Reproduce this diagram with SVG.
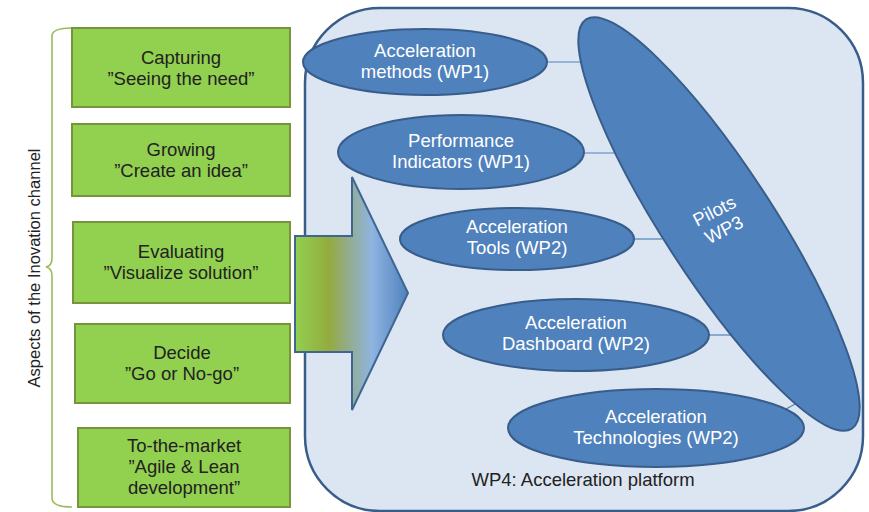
<svg xmlns="http://www.w3.org/2000/svg" width="869" height="512" viewBox="0 0 869 512">
<defs>
<linearGradient id="arrowGrad" x1="295" y1="0" x2="408" y2="0" gradientUnits="userSpaceOnUse">
<stop offset="0" stop-color="#92d050"/>
<stop offset="0.3" stop-color="#94ab3e"/>
<stop offset="0.45" stop-color="#93ab83"/>
<stop offset="0.68" stop-color="#8fb4e0"/>
<stop offset="1" stop-color="#4f81bd"/>
</linearGradient>
</defs>
<style>
.green{fill:#92d050;stroke:#77933c;stroke-width:2}
.blob{fill:#4f81bd;stroke:#385d8a;stroke-width:2}
.lt{font-family:"Liberation Sans",Arial,sans-serif;font-size:18.5px;fill:#222;text-anchor:middle}
.wt{font-family:"Liberation Sans",Arial,sans-serif;font-size:18.5px;fill:#ffffff;text-anchor:middle}
.conn{stroke:#4f81bd;stroke-width:1.2;fill:none}
</style>
<rect width="869" height="512" fill="#ffffff"/>

<g id="platform">
<rect x="305" y="8" width="558" height="503" rx="75" ry="75" fill="#dce6f2" stroke="#385d8a" stroke-width="2.5"/>
<text class="lt" x="583" y="486">WP4:  Acceleration platform</text>
</g>

<g id="brace">
<path d="M72,28 Q52,28 52,36 L52,258 Q52,266 46,267 Q52,268 52,276 L52,498 Q52,507 72,507" fill="none" stroke="#9bbb59" stroke-width="1.6"/>
<text transform="translate(40,268) rotate(-90)" font-family="Liberation Sans, Arial, sans-serif" font-size="16" fill="#222" text-anchor="middle" textLength="239" lengthAdjust="spacingAndGlyphs">Aspects of the Inovation channel</text>
</g>

<g id="capturing">
<rect class="green" x="72" y="28" width="218" height="79"/>
<text class="lt" x="181" y="64">Capturing</text>
<text class="lt" x="181" y="85">”Seeing the need”</text>
</g>
<g id="growing">
<rect class="green" x="72" y="124" width="218" height="72"/>
<text class="lt" x="181" y="156">Growing</text>
<text class="lt" x="181" y="177">”Create an idea”</text>
</g>
<g id="evaluating">
<rect class="green" x="73" y="222" width="217" height="81"/>
<text class="lt" x="181" y="258">Evaluating</text>
<text class="lt" x="181" y="279">”Visualize solution”</text>
</g>
<g id="decide">
<rect class="green" x="75" y="324" width="215" height="79"/>
<text class="lt" x="182" y="359">Decide</text>
<text class="lt" x="182" y="380">”Go or No-go”</text>
</g>
<g id="market">
<rect class="green" x="78" y="428" width="212" height="79"/>
<text class="lt" x="184" y="452">To-the-market</text>
<text class="lt" x="184" y="473">”Agile &amp; Lean</text>
<text class="lt" x="184" y="494">development”</text>
</g>

<g id="arrow">
<path d="M295,236 L352,236 L352,177 L408,293 L352,410 L352,352 L295,352 Z" fill="url(#arrowGrad)" stroke="#3f6593" stroke-width="2"/>
</g>

<g id="connectors">
<line class="conn" x1="546" y1="62" x2="587" y2="62"/>
<line class="conn" x1="584" y1="153" x2="617" y2="153"/>
<line class="conn" x1="633" y1="239" x2="662" y2="239"/>
<line class="conn" x1="709" y1="335" x2="732" y2="335"/>
<line class="conn" x1="786" y1="409" x2="797" y2="403"/>
</g>

<g id="pilots">
<ellipse class="blob" cx="719" cy="224" rx="244" ry="55" transform="rotate(57 719 224)"/>
<g transform="rotate(-27 720 222)">
<text class="wt" x="720" y="216">Pilots</text>
<text class="wt" x="720" y="237">WP3</text>
</g>
</g>

<g id="methods">
<ellipse class="blob" cx="425" cy="62" rx="122" ry="33"/>
<text class="wt" x="425" y="57">Acceleration</text>
<text class="wt" x="425" y="78">methods (WP1)</text>
</g>
<g id="performance">
<ellipse class="blob" cx="461" cy="152" rx="123" ry="37"/>
<text class="wt" x="461" y="147">Performance</text>
<text class="wt" x="461" y="168">Indicators (WP1)</text>
</g>
<g id="tools">
<ellipse class="blob" cx="517" cy="239" rx="117" ry="31"/>
<text class="wt" x="517" y="233">Acceleration</text>
<text class="wt" x="517" y="254">Tools (WP2)</text>
</g>
<g id="dashboard">
<ellipse class="blob" cx="576" cy="335" rx="133" ry="36"/>
<text class="wt" x="576" y="329">Acceleration</text>
<text class="wt" x="576" y="350">Dashboard (WP2)</text>
</g>
<g id="technologies">
<ellipse class="blob" cx="656" cy="428" rx="148" ry="39"/>
<text class="wt" x="656" y="423">Acceleration</text>
<text class="wt" x="656" y="444">Technologies (WP2)</text>
</g>
</svg>
